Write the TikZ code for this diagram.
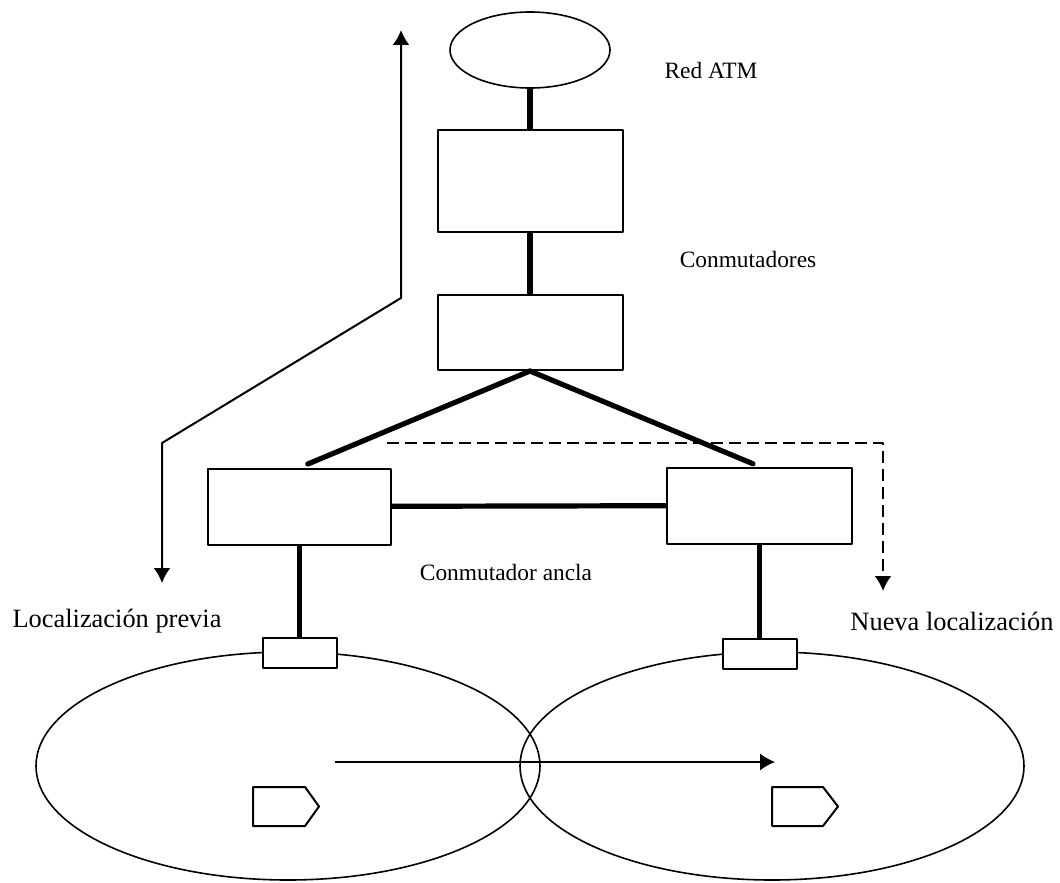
\documentclass[tikz,border=0pt]{standalone}
\usepackage{fontspec}
\setmainfont{Liberation Serif}
\usetikzlibrary{calc,positioning,arrows.meta,shapes.geometric}

\tikzset{
  sw/.style={draw, line width=1pt, minimum width=92.5pt, minimum height=38pt, inner sep=0pt},
  port/.style={draw, line width=1pt, minimum width=37pt, minimum height=15pt, inner sep=0pt},
  cell/.style={draw, ellipse, line width=0.8pt, minimum width=252pt, minimum height=114pt, inner sep=0pt},
  link/.style={line width=2.6pt},
  lbl/.style={font=\fontsize{11.7}{14}\selectfont, inner sep=0pt},
  loclbl/.style={font=\fontsize{13.2}{16}\selectfont, inner sep=0pt},
}

\begin{document}
\begin{tikzpicture}[x=0.5pt,y=-0.5pt,>={Latex[length=7.5pt,width=8.5pt]},line join=round]
	\useasboundingbox (0,0) rectangle (1060,883);

	% red y conmutadores
	\node[draw, ellipse, line width=0.8pt, minimum width=80pt, minimum height=38pt, inner sep=0pt] (atm) at (530,50) {};
	\node[lbl] (atmlabel) at (711,70) {Red ATM};
	\node[sw, minimum height=51pt] (sw1) at (530,181) {};
	\node[sw, minimum height=37.5pt] (sw2) at (530,332.5) {};
	\node[lbl] (swlabel) at (748,259) {Conmutadores};
	\node[sw, minimum width=91.5pt] (old) at (299.5,506.5) {};
	\node[sw] (new) at (759.5,505.5) {};
	\node[lbl] (anchor) at (506,572) {Conmutador ancla};

	% celdas
	\node[cell] (oldcell) at (288,766) {};
	\node[cell] (newcell) at (772,766) {};
	\node[port, fill=white] (oldport) at (299.5,653) {};
	\node[port, fill=white] (newport) at (759.5,653.5) {};
	\node[loclbl] (oldlabel) at (117,621) {Localización previa};
	\node[loclbl] (newlabel) at (952,621) {Nueva localización};

	% enlaces
	\draw[link] (atm) -- (sw1);
	\draw[link] (sw1) -- (sw2);
	\draw[link, line cap=round, shorten >=4.5pt] (sw2.south) -- (old.north);
	\draw[link, line cap=round, shorten >=3.5pt] (sw2.south) -- (new.north);
	\draw[link] (old) -- (new);
	\draw[link] (old) -- (oldport);
	\draw[link] (new) -- (newport);

	% caminos
	\coordinate (uptip) at (401,30);
	\coordinate (bend1) at (401,298);
	\coordinate (bend2) at (162,443);
	\coordinate (downtip) at (162,583);
	\draw[<->, line width=1pt] (uptip) -- (bend1) -- (bend2) -- (downtip);

	\coordinate (dstart) at (387,443);
	\coordinate (dtip) at (883,591);
	\draw[->, dashed, line width=1.2pt, dash pattern=on 6pt off 3pt] (dstart) -| (dtip);

	% movimiento del terminal
	\coordinate (mvstart) at (335,762);
	\coordinate (mvend) at (775,762);
	\draw[->, line width=0.7pt] (mvstart) -- (mvend);

	% terminales
	\draw[line width=1pt] (253,787) -- (305,787) -- (319,806.5) -- (305,826) -- (253,826) -- cycle;
	\draw[line width=1pt] (772,787) -- (823,787) -- (838,806.5) -- (823,826) -- (772,826) -- cycle;
\end{tikzpicture}
\end{document}
